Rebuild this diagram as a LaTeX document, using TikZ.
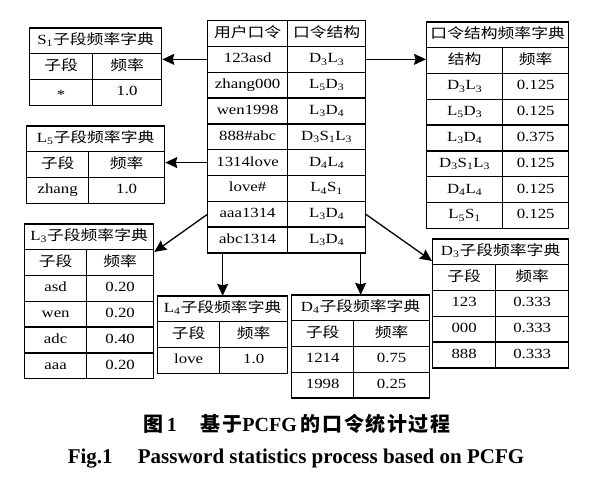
\documentclass[tikz,border=0pt]{standalone}
\usepackage{fontspec}
\setmainfont[FakeStretch=1.2]{Liberation Serif}
\newfontfamily\cjk[FakeStretch=1.2]{Noto Sans CJK SC}
\newfontfamily\capfont{Liberation Serif}
\newfontfamily\capcjk[LetterSpace=8]{Noto Sans CJK SC}
\usetikzlibrary{arrows.meta,positioning,matrix}
\newcommand\zh[1]{{\cjk #1}}
\newcommand\sbs[1]{\textsubscript{#1}}
\tikzset{
  tbl/.style={matrix of nodes, anchor=north west, inner sep=0pt, outer sep=0pt,
    row sep=-\pgflinewidth, column sep=-\pgflinewidth,
    nodes={draw, minimum height=25.8pt, text height=10.5pt, text depth=3.5pt,
      inner sep=0pt, outer sep=0pt}},
  cols/.style 2 args={column 1/.style={nodes={minimum width=#1}},
    column 2/.style={nodes={minimum width=#2}}},
  ttl/.style={draw, anchor=south west, minimum height=25.8pt, text height=10.5pt,
    text depth=3.5pt, inner sep=0pt, outer sep=0pt},
  arr/.style={-{Stealth[length=12pt,width=11pt,inset=1.5pt]}},
}

\begin{document}
\begin{tikzpicture}[x=1pt, y=-1pt, line width=1.3pt, font=\fontsize{14}{16}\selectfont]
  \useasboundingbox (0,0) rectangle (595,480);
  % password table
  \matrix[tbl, cols={80pt}{78pt}] (cen) at (207,20) {
    \zh{用户口令} & \zh{口令结构} \\
    123asd & D\sbs{3}L\sbs{3} \\
    zhang000 & L\sbs{5}D\sbs{3} \\
    wen1998 & L\sbs{3}D\sbs{4} \\
    888\#abc & D\sbs{3}S\sbs{1}L\sbs{3} \\
    1314love & D\sbs{4}L\sbs{4} \\
    love\# & L\sbs{4}S\sbs{1} \\
    aaa1314 & L\sbs{3}D\sbs{4} \\
    abc1314 & L\sbs{3}D\sbs{4} \\
  };
  % structure dictionary
  \matrix[tbl, cols={76pt}{66pt}] (res) at (426,47) {
    \zh{结构} & \zh{频率} \\
    D\sbs{3}L\sbs{3} & 0.125 \\
    L\sbs{5}D\sbs{3} & 0.125 \\
    L\sbs{3}D\sbs{4} & 0.375 \\
    D\sbs{3}S\sbs{1}L\sbs{3} & 0.125 \\
    D\sbs{4}L\sbs{4} & 0.125 \\
    L\sbs{5}S\sbs{1} & 0.125 \\
  };
  \node[ttl, minimum width=142pt] (rest) at (res-1-1.north west) {\zh{口令结构频率字典}};
  % segment dictionaries
  \matrix[tbl, cols={63pt}{69pt}] (s1) at (29,53) {
    \zh{子段} & \zh{频率} \\
    \raisebox{-4pt}[0pt][0pt]{*} & 1.0 \\
  };
  \node[ttl, minimum width=132pt] (s1t) at (s1-1-1.north west) {S\sbs{1}\zh{子段频率字典}};
  \matrix[tbl, cols={62pt}{76pt}] (l5) at (26,151) {
    \zh{子段} & \zh{频率} \\
    zhang & 1.0 \\
  };
  \node[ttl, minimum width=138pt] (l5t) at (l5-1-1.north west) {L\sbs{5}\zh{子段频率字典}};
  \matrix[tbl, cols={62pt}{67pt}] (l3) at (24,249) {
    \zh{子段} & \zh{频率} \\
    asd & 0.20 \\
    wen & 0.20 \\
    adc & 0.40 \\
    aaa & 0.20 \\
  };
  \node[ttl, minimum width=129pt] (l3t) at (l3-1-1.north west) {L\sbs{3}\zh{子段频率字典}};
  \matrix[tbl, cols={62pt}{68pt}] (l4) at (157,321) {
    \zh{子段} & \zh{频率} \\
    love & 1.0 \\
  };
  \node[ttl, minimum width=130pt] (l4t) at (l4-1-1.north west) {L\sbs{4}\zh{子段频率字典}};
  \matrix[tbl, cols={62pt}{76pt}] (d4) at (291,320) {
    \zh{子段} & \zh{频率} \\
    1214 & 0.75 \\
    1998 & 0.25 \\
  };
  \node[ttl, minimum width=138pt] (d4t) at (d4-1-1.north west) {D\sbs{4}\zh{子段频率字典}};
  \matrix[tbl, cols={63pt}{73pt}] (d3) at (432,264) {
    \zh{子段} & \zh{频率} \\
    123 & 0.333 \\
    000 & 0.333 \\
    888 & 0.333 \\
  };
  \node[ttl, minimum width=136pt] (d3t) at (d3-1-1.north west) {D\sbs{3}\zh{子段频率字典}};
  % arrows
  \draw[arr] (cen-2-1.west) -- (cen-2-1.west -| s1.east);
  \draw[arr] (cen-6-1.west) -- (cen-6-1.west -| l5.east);
  \draw[arr] (cen-2-2.east) -- (cen-2-2.east -| res.west);
  \draw[arr] (cen-8-1.west) -- ([yshift=-3pt]l3.north east);
  \draw[arr] (cen-8-2.east) -- ([yshift=3pt]d3.north west);
  \draw[arr] (cen.south -| l4t.north) -- (l4t.north);
  \draw[arr] (cen.south -| d4t.north) -- (d4t.north);
  % caption
  \node[anchor=base, font=\capfont\bfseries\fontsize{20}{24}\selectfont] (cap1) at (297,431)
    {{\capcjk 图}\,1\hspace{1.2em}{\capcjk 基于}PCFG\hspace{0.2em}{\capcjk 的口令统计过程}};
  \node[anchor=base, font=\capfont\bfseries\fontsize{21}{24}\selectfont] (cap2) at (296,463)
    {Fig.1\hspace{1.2em}Password statistics process based on PCFG};
\end{tikzpicture}
\end{document}
